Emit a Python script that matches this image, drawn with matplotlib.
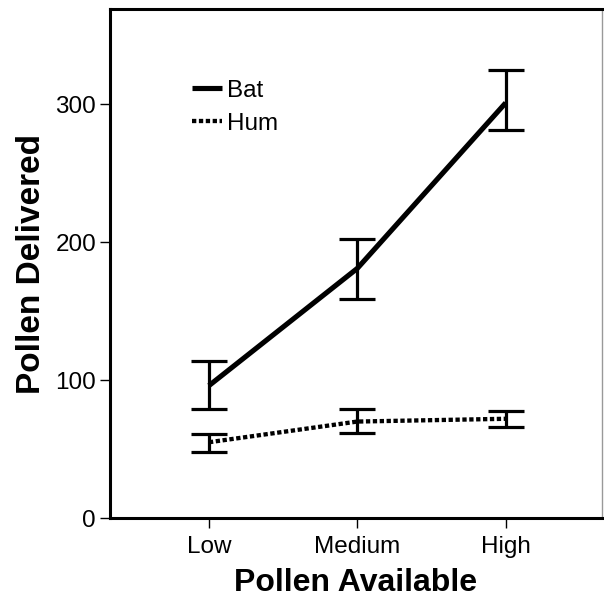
import numpy as np
import matplotlib
matplotlib.use("Agg")
import matplotlib.pyplot as plt

# Pollen delivered vs pollen available, means with error bars
levels = ["Low", "Medium", "High"]

bat_mean = [96, 181, 301]
bat_upper = [114, 202, 325]
bat_lower = [79, 159, 281]

hum_mean = [55, 70, 72]
hum_upper = [61, 79, 78]
hum_lower = [48, 62, 66]

yticks = [0, 100, 200, 300]


def main():
    plt.rcParams["font.family"] = ["Liberation Sans", "DejaVu Sans"]

    fig = plt.figure(figsize=(6.04, 5.99), dpi=100)
    ax = fig.add_axes([0.182, 0.135, 0.815, 0.85])

    x = np.arange(len(levels))

    # Bat: solid line
    bat_err = [np.subtract(bat_mean, bat_lower), np.subtract(bat_upper, bat_mean)]
    ax.plot(x, bat_mean, color="black", lw=3.7, solid_capstyle="butt", label="Bat")
    ax.errorbar(x, bat_mean, yerr=bat_err, fmt="none", ecolor="black",
                elinewidth=2.3, capsize=13, capthick=2.3)

    # Hummingbird: dotted line
    hum_err = [np.subtract(hum_mean, hum_lower), np.subtract(hum_upper, hum_mean)]
    ax.plot(x, hum_mean, color="black", lw=3.1, dashes=(1.0, 0.6),
            dash_capstyle="butt", label="Hum")
    ax.errorbar(x, hum_mean, yerr=hum_err, fmt="none", ecolor="black",
                elinewidth=2.3, capsize=13, capthick=2.3)

    ax.set_xlim(-0.667, 2.65)
    ax.set_ylim(0, 369)
    ax.set_xticks(x)
    ax.set_xticklabels(levels)
    ax.set_yticks(yticks)
    ax.tick_params(axis="both", labelsize=17.5, length=7, width=1.0,
                   direction="out", pad=3)
    ax.tick_params(axis="x", pad=6)

    for side in ["left", "bottom", "top"]:
        ax.spines[side].set_linewidth(2.2)
    ax.spines["right"].set_linewidth(1.0)
    ax.spines["right"].set_color("#999999")

    ax.set_xlabel("Pollen Available", fontsize=23, fontweight="bold", labelpad=7)
    ax.set_ylabel("Pollen Delivered", fontsize=24, fontweight="bold", labelpad=6)

    ax.legend(loc="upper left", bbox_to_anchor=(0.166, 0.861), frameon=False,
              fontsize=17.5, handlelength=1.25, handletextpad=0.22,
              labelspacing=0.45, borderpad=0, borderaxespad=0)

    fig.savefig("out.png", dpi=100)


if __name__ == "__main__":
    main()
